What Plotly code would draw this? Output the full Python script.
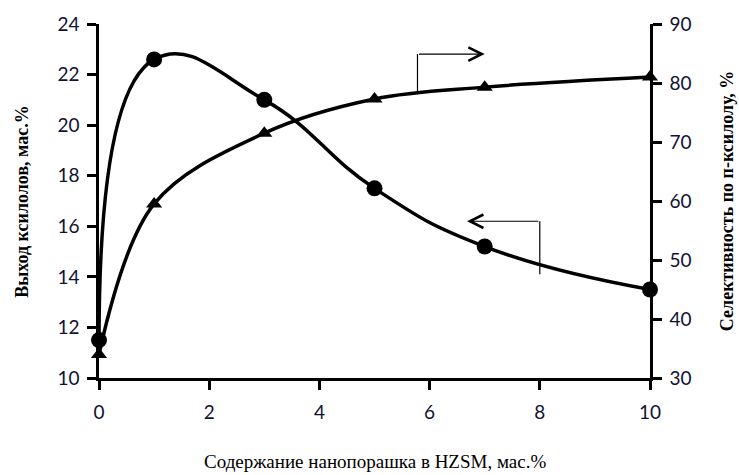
import plotly.graph_objects as go

x_vals = [0, 1, 3, 5, 7, 10]
yield_xylenes = [11.5, 22.6, 21.0, 17.5, 15.2, 13.5]
selectivity = [34.0, 59.5, 71.5, 77.3, 79.3, 81.0]

x_ticks = [0, 2, 4, 6, 8, 10]
y_ticks = [10, 12, 14, 16, 18, 20, 22, 24]
y2_ticks = [30, 40, 50, 60, 70, 80, 90]

x_title = "Содержание нанопорашка в HZSM, мас.%"
y_title = "Выход ксилолов, мас.%"
y2_title = "Селективность по п-ксилолу, %"

tick_font = dict(family="Lato", size=19, color="#111133")
title_font = dict(family="Liberation Serif", size=18, color="black")

fig = go.Figure()
fig.add_trace(go.Scatter(
    x=x_vals, y=yield_xylenes, mode="lines+markers",
    line=dict(color="black", width=3.5, shape="spline", smoothing=1.3),
    marker=dict(symbol="circle", size=16, color="black"),
    showlegend=False, cliponaxis=False))
fig.add_trace(go.Scatter(
    x=x_vals, y=selectivity, mode="lines+markers", yaxis="y2",
    line=dict(color="black", width=3.5, shape="spline", smoothing=1.0),
    marker=dict(symbol="triangle-up", size=14, color="black"),
    showlegend=False, cliponaxis=False))

axis_common = dict(showline=True, linecolor="black", linewidth=2.5,
                   ticks="outside", ticklen=9, tickwidth=2.5, tickcolor="black",
                   showgrid=False, zeroline=False, tickfont=tick_font)

fig.update_layout(
    width=739, height=475,
    margin=dict(l=99, r=89, t=22, b=97),
    plot_bgcolor="white", paper_bgcolor="white",
    xaxis=dict(range=[0, 10], tickvals=x_ticks, ticklabelstandoff=6, **axis_common),
    yaxis=dict(range=[10, 24], tickvals=y_ticks, ticklabelstandoff=4, **axis_common),
    yaxis2=dict(range=[30, 90], tickvals=y2_ticks, overlaying="y", side="right",
                ticklabelstandoff=4, **axis_common),
)

# Titles
fig.add_annotation(text=x_title, xref="paper", yref="paper", x=0.5, y=-0.235,
                   showarrow=False, font=dict(family="Liberation Serif", size=19, color="black"),
                   xanchor="center", yanchor="middle")
fig.add_annotation(text="<b>" + y_title + "</b>", xref="paper", yref="paper",
                   x=-0.14, y=0.5, textangle=-90, showarrow=False,
                   font=title_font, xanchor="center", yanchor="middle")
fig.add_annotation(text="<b>" + y2_title + "</b>", xref="paper", yref="paper",
                   x=1.14, y=0.5, textangle=-90, showarrow=False,
                   font=title_font, xanchor="center", yanchor="middle")

# Upper arrow (points to right axis)
fig.add_shape(type="line", xref="x", yref="y2", x0=5.78, x1=5.78, y0=78.3, y1=84.9,
              line=dict(color="black", width=1.2))
fig.add_annotation(xref="x", yref="y2", axref="x", ayref="y2",
                   x=7.0, y=84.9, ax=5.78, ay=84.9, text="", showarrow=True,
                   arrowhead=5, arrowsize=2.2, arrowwidth=1.2, arrowcolor="black")
# Lower arrow (points to left axis)
fig.add_shape(type="line", xref="x", yref="y", x0=8.0, x1=8.0, y0=14.1, y1=16.2,
              line=dict(color="black", width=1.2))
fig.add_annotation(xref="x", yref="y", axref="x", ayref="y",
                   x=6.68, y=16.2, ax=8.0, ay=16.2, text="", showarrow=True,
                   arrowhead=5, arrowsize=2.2, arrowwidth=1.2, arrowcolor="black")

fig.write_html("out.html")
